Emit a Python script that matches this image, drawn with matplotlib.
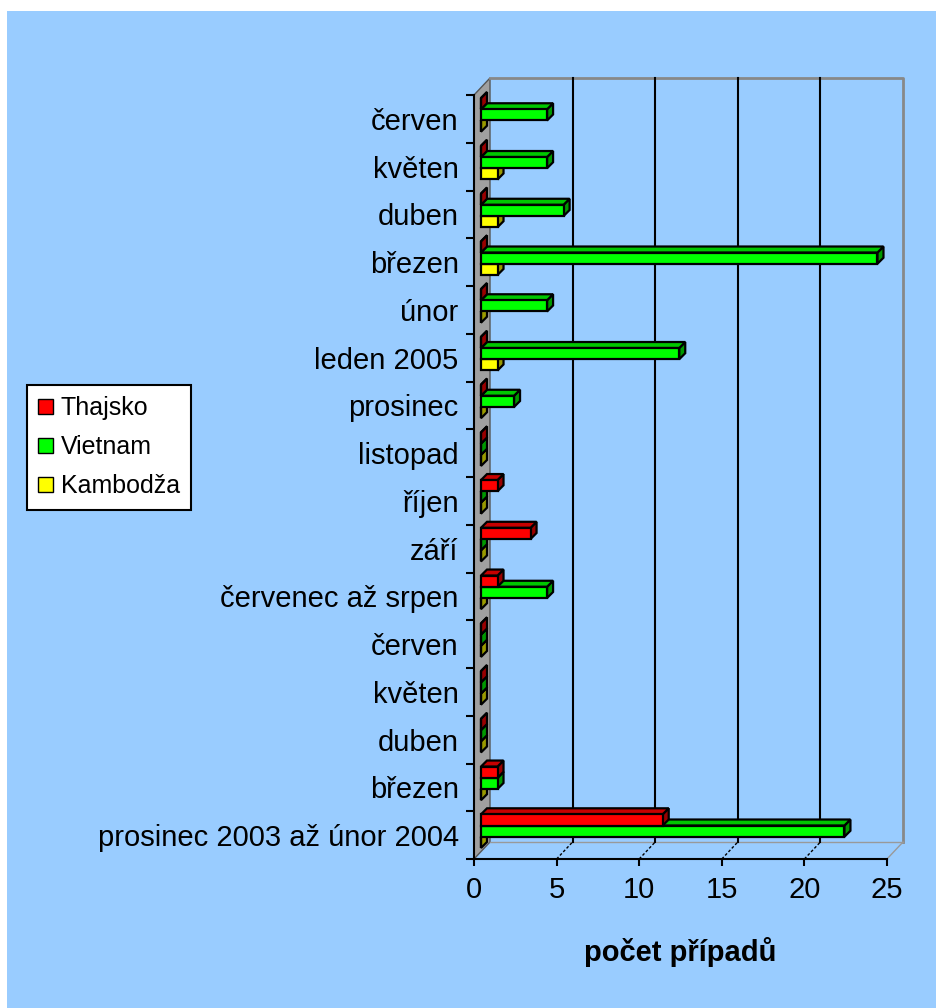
import matplotlib
matplotlib.use('Agg')
import matplotlib.pyplot as plt
from matplotlib.patches import Polygon, Rectangle, Patch
import numpy as np

plt.rcParams['font.family'] = ['Liberation Sans', 'DejaVu Sans']

# data (bottom to top as in the chart)
months = ['prosinec 2003 až únor 2004', 'březen', 'duben', 'květen', 'červen',
          'červenec až srpen', 'září', 'říjen', 'listopad', 'prosinec',
          'leden 2005', 'únor', 'březen', 'duben', 'květen', 'červen']
thajsko = [11, 1, 0, 0, 0, 1, 3, 1, 0, 0, 0, 0, 0, 0, 0, 0]
vietnam = [22, 1, 0, 0, 0, 4, 0, 0, 0, 2, 12, 4, 24, 5, 4, 4]
kambodza = [0, 0, 0, 0, 0, 0, 0, 0, 0, 0, 1, 0, 1, 1, 1, 0]
series_names = ['Thajsko', 'Vietnam', 'Kambodža']
series_vals = [thajsko, vietnam, kambodza]
series_cols = ['#ff0000', '#00ff00', '#ffff00']
xticks = [0, 5, 10, 15, 20, 25]
xmax = 25

W, H = 936, 1008
fig = plt.figure(figsize=(W / 100, H / 100), dpi=100)
fig.patch.set_facecolor('white')
fig.add_artist(Rectangle((7 / W, 0), 1, 1 - 11 / H, transform=fig.transFigure,
                         facecolor='#99ccff', edgecolor='none', zorder=-10))

# front plane of the 3D box
ax_l, ax_r, ax_t, ax_b = 474, 887, 95, 859
ax = fig.add_axes([ax_l / W, (H - ax_b) / H, (ax_r - ax_l) / W, (ax_b - ax_t) / H])
ax.patch.set_alpha(0)
n = len(months)
ax.set_xlim(0, xmax)
ax.set_ylim(0, n)

# pixel -> data unit
ux = xmax / (ax_r - ax_l)
uy = n / (ax_b - ax_t)
Dx, Dy = 16 * ux, 17 * uy          # depth of the whole box
ox, oy = 7 * ux, 4 * uy            # bar front plane offset
bdx, bdy = 6 * ux, 6 * uy          # bar depth
bh = 0.235                         # bar thickness


def shade(c, f):
    c = matplotlib.colors.to_rgb(c)
    return tuple(v * f for v in c)


# left wall
ax.add_patch(Polygon([(0, 0), (Dx, Dy), (Dx, n + Dy), (0, n)], closed=True,
                     facecolor='#a0a0a0', edgecolor='#555555', lw=1, clip_on=False, zorder=1))
# back wall edges
ax.plot([Dx, xmax + Dx, xmax + Dx], [n + Dy, n + Dy, Dy], color='#888888', lw=2, clip_on=False, zorder=1)
ax.plot([Dx, xmax + Dx], [Dy, Dy], color='#999999', lw=1, clip_on=False, zorder=1)
ax.plot([xmax, xmax + Dx], [0, Dy], color='#999999', lw=1, clip_on=False, zorder=1)
# gridlines on back wall and floor
for xv in xticks[1:-1]:
    ax.plot([xv + Dx, xv + Dx], [Dy, n + Dy], color='black', lw=1.5, clip_on=False, zorder=1)
    ax.plot([xv, xv + Dx], [0, Dy], color='black', lw=1, ls=(0, (2, 1.5)), clip_on=False, zorder=1)


def bar3d(x0, y0, w, h, col):
    front = [(x0, y0), (x0 + w, y0), (x0 + w, y0 + h), (x0, y0 + h)]
    top = [(x0, y0 + h), (x0 + w, y0 + h), (x0 + w + bdx, y0 + h + bdy), (x0 + bdx, y0 + h + bdy)]
    side = [(x0 + w, y0), (x0 + w + bdx, y0 + bdy), (x0 + w + bdx, y0 + h + bdy), (x0 + w, y0 + h)]
    for pts, f in ((side, 0.6), (top, 0.78), (front, 1.0)):
        ax.add_patch(Polygon(pts, closed=True, facecolor=shade(col, f), edgecolor='black',
                             lw=1.6, joinstyle='miter', clip_on=False, zorder=3))


for i in range(n):
    c = i + 0.5 + oy
    # draw bottom series first so upper bars cover their top faces
    for k in (2, 1, 0):
        y0 = c + (0.5 - k) * bh
        bar3d(ox, y0, series_vals[k][i], bh, series_cols[k])

# axes / ticks
for s in ('top', 'right'):
    ax.spines[s].set_visible(False)
ax.spines['bottom'].set_linewidth(1.5)
ax.spines['left'].set_linewidth(1.5)
ax.spines['bottom'].set_zorder(4)
ax.spines['left'].set_zorder(4)
ax.set_xticks(xticks)
ax.set_xticklabels([str(v) for v in xticks], fontsize=21)
ax.tick_params(axis='x', direction='out', length=5, width=1.5, pad=7)
ax.set_yticks(np.arange(n) + 0.5)
ax.set_yticklabels(months, fontsize=21)
ax.set_yticks(np.arange(n + 1), minor=True)
ax.tick_params(axis='y', which='major', length=0, pad=11)
ax.tick_params(axis='y', which='minor', length=6, width=1.5)
ax.set_xlabel('počet případů', fontsize=21, fontweight='bold', labelpad=24)

handles = [Patch(facecolor=c, edgecolor='black', label=nm) for nm, c in zip(series_names, series_cols)]
leg = fig.legend(handles=handles, loc='upper left', bbox_to_anchor=(27 / W, 1 - 385 / H),
                 frameon=True, fancybox=False, edgecolor='black', framealpha=1, fontsize=18,
                 handlelength=0.6, handleheight=0.6, handletextpad=0.3, labelspacing=0.6,
                 borderpad=0.45, borderaxespad=0)
leg.get_frame().set_linewidth(1.5)

fig.savefig('out.png', dpi=100)
